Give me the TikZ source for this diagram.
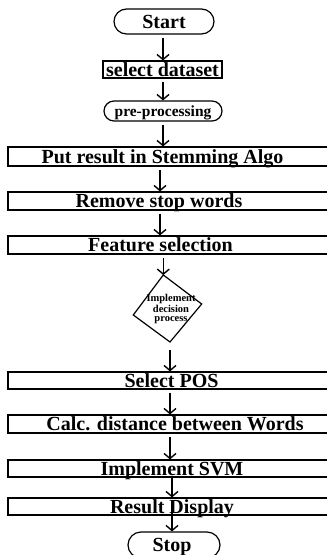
\documentclass[tikz,border=0pt]{standalone}
\usepackage{fontspec}
\setmainfont{Liberation Serif}
\usetikzlibrary{arrows.meta,shapes.misc}
\begin{document}
\begin{tikzpicture}[x=1pt,y=-1pt,
  frame/.style={draw, line width=1.2pt, inner sep=0pt},
  term/.style={frame, rounded rectangle},
  wide/.style={frame, rectangle, minimum width=332pt},
  big/.style={font=\fontsize{20}{20}\selectfont\bfseries, text height=13.5pt, text depth=0pt, inner sep=0pt},
  small/.style={font=\fontsize{15.5}{15.5}\selectfont\bfseries, text height=10.5pt, text depth=0pt, inner sep=0pt},
  tiny/.style={font=\fontsize{10.5}{9.4}\selectfont\bfseries, align=center, inner sep=0pt},
  arr/.style={-{Straight Barb[length=5pt,width=12pt]}, line width=1.4pt, shorten <=3pt}]
\useasboundingbox (0,0) rectangle (327,555);
\clip (0,0) rectangle (327,555);

% terminals and short boxes
\node[term, big, minimum width=100pt, minimum height=25pt] (start) at (164,21.5) {Start};
\node[frame, big, minimum width=119pt, minimum height=17pt] (sel) at (162.5,69.5) {select dataset};
\node[term, small, minimum width=118pt, minimum height=20pt] (pre) at (163,111) {pre-processing};

% full-width process boxes
\node[wide, minimum height=19pt] (put) at (174,156.5) {};
\node[big] (putt) at (162.5,156.5) {Put result in Stemming Algo};
\node[wide, minimum height=18pt] (rem) at (174,201) {};
\node[big] (remt) at (159,201) {Remove stop words};
\node[wide, minimum height=18pt] (feat) at (174,245) {};
\node[big] (featt) at (160.5,245) {Feature selection};

% decision
\coordinate (dt) at (163.3,275);
\coordinate (dr) at (201.7,304);
\coordinate (db) at (170,342);
\coordinate (dl) at (133.3,315);
\draw[line width=1.2pt, line join=miter] (dt) -- (dr) -- (db) -- (dl) -- cycle;
\node[tiny] (dec) at (171,309) {Implement\\decision\\process};

\node[wide, minimum height=17pt] (pos) at (174,380.5) {};
\node[big] (post) at (171.5,380.5) {Select POS};
\node[wide, minimum height=18pt] (calc) at (174,424) {};
\node[big] (calct) at (175,424) {Calc. distance between Words};
\node[wide, minimum height=17pt] (svm) at (174,468.5) {};
\node[big] (svmt) at (172,468.5) {Implement SVM};
\node[wide, minimum height=17pt] (res) at (174,506.5) {};
\node[big] (rest) at (172,506.5) {Result Display};
\node[term, big, minimum width=92pt, minimum height=26pt] (stop) at (174,545) {};
\node[big] (stopt) at (172,545) {Stop};

% arrow columns
\coordinate (c1) at (163,0);
\coordinate (c2) at (160,0);
\coordinate (c3) at (170,0);
\coordinate (c4) at (172,0);

\draw[arr] (start.south -| c1) -- (sel.north -| c1);
\draw[arr] (sel.south -| c1) -- (pre.north -| c1);
\draw[arr] (pre.south -| c1) -- (put.north -| c1);
\draw[arr] (put.south -| c2) -- (rem.north -| c2);
\draw[arr] (rem.south -| c2) -- (feat.north -| c2);
\draw[arr] (feat.south -| dt) -- (dt);
\draw[arr, shorten <=8pt] (db -| c3) -- (pos.north -| c3);
\draw[arr] (pos.south -| c3) -- (calc.north -| c3);
\draw[arr] (calc.south -| c3) -- (svm.north -| c3);
\draw[arr, shorten <=0pt] (svm.south -| c4) -- (res.north -| c4);
\draw[arr] (res.north -| c4) -- (stop.north -| c4);
\end{tikzpicture}
\end{document}
